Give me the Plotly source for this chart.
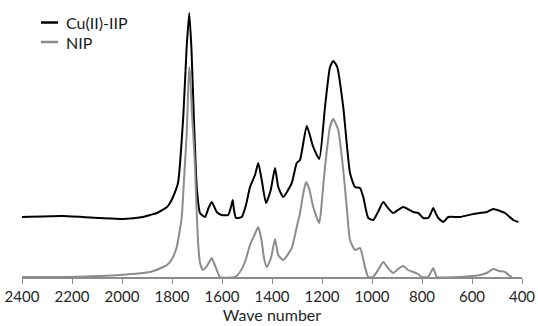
import plotly.graph_objects as go

# Series names
series_names = ["Cu(II)-IIP", "NIP"]

# Cu(II)-IIP spectrum (wave number, relative intensity)
iip_wn = [2400, 2240, 2088, 1996, 1916, 1888, 1860, 1820, 1808, 1796, 1776, 1755, 1742, 1731,
          1722, 1715, 1701, 1688, 1668, 1654, 1641, 1621, 1601, 1575, 1562, 1557, 1552, 1544,
          1521, 1504, 1488, 1468, 1455, 1441, 1424, 1405, 1388, 1375, 1355, 1321, 1301, 1288,
          1261, 1235, 1211, 1188, 1168, 1155, 1139, 1115, 1088, 1068, 1048, 1035, 1015, 995,
          976, 955, 936, 915, 896, 875, 835, 815, 795, 775, 764, 755, 744, 735, 715, 695,
          648, 595, 541, 515, 488, 468, 435, 415]
iip_val = [60, 61, 59, 58, 60, 62, 64, 70, 74, 80, 94, 160, 227, 264,
           227, 177, 90, 64, 60, 69, 75, 65, 62, 62, 72, 77, 67, 59,
           60, 72, 90, 102, 114, 97, 74, 87, 109, 90, 80, 94, 114, 117,
           151, 130, 118, 170, 210, 216, 210, 170, 104, 90, 89, 80, 59, 57,
           65, 75, 69, 64, 67, 70, 65, 64, 59, 59, 64, 69, 63, 59, 55, 60,
           60, 63, 65, 68, 66, 64, 57, 55]

# NIP spectrum (wave number, relative intensity)
nip_wn = [2400, 2212, 2088, 2008, 1888, 1835, 1820, 1800, 1781, 1770, 1761, 1752, 1741, 1736,
          1731, 1726, 1721, 1716, 1708, 1701, 1695, 1688, 1676, 1660, 1641, 1632, 1621, 1608,
          1548, 1528, 1508, 1488, 1472, 1455, 1442, 1432, 1421, 1404, 1388, 1375, 1355, 1321,
          1301, 1288, 1276, 1264, 1252, 1235, 1211, 1200, 1188, 1168, 1155, 1135, 1115, 1100,
          1088, 1068, 1048, 1028, 1015, 996, 976, 955, 936, 915, 896, 875, 856, 835, 816, 801,
          776, 764, 755, 746, 740, 648, 596, 568, 541, 515, 492, 468, 448, 440]
nip_val = [0, 0, 1, 2, 5, 10, 12, 18, 30, 45, 60, 97, 144, 182,
           210, 197, 167, 147, 110, 64, 32, 14, 7, 11, 19, 14, 7, 0,
           0, 5, 15, 32, 41, 50, 37, 19, 10, 19, 38, 22, 17, 29,
           50, 64, 82, 95, 89, 70, 54, 77, 110, 150, 158, 147, 107, 67,
           37, 27, 29, 10, 0, 0, 7, 15, 9, 4, 8, 11, 7, 5, 3, 0,
           0, 5, 9, 3, 0, 0, 1, 2, 4, 8, 6, 5, 1, 0]

x_ticks = [2400, 2200, 2000, 1800, 1600, 1400, 1200, 1000, 800, 600, 400]
x_title = "Wave number"

colors = ["#000000", "#8c8c8c"]
FONT = "Lato, 'Open Sans', sans-serif"

fig = go.Figure()
fig.add_trace(go.Scatter(x=iip_wn, y=iip_val, mode="lines", name=series_names[0],
                         line=dict(color=colors[0], width=2, shape="spline", smoothing=0.5),
                         showlegend=False))
fig.add_trace(go.Scatter(x=nip_wn, y=nip_val, mode="lines", name=series_names[1],
                         line=dict(color=colors[1], width=2, shape="spline", smoothing=0.5),
                         showlegend=False))

# Custom legend (short line samples like the original)
leg_y = [254.5, 235]
for i, name in enumerate(series_names):
    fig.add_shape(type="line", xref="paper", yref="y", x0=0.038, x1=0.072,
                  y0=leg_y[i], y1=leg_y[i], line=dict(color=colors[i], width=2.5))
    fig.add_annotation(xref="paper", yref="y", x=0.083, y=leg_y[i], text=name,
                       showarrow=False, xanchor="left", yanchor="middle",
                       font=dict(family=FONT, size=16, color="#1a1a1a"))

fig.update_layout(
    width=538, height=326,
    margin=dict(l=22, r=16, t=0, b=49),
    paper_bgcolor="white", plot_bgcolor="white",
    font=dict(family=FONT, color="#262626"),
    xaxis=dict(range=[2400, 400], tickvals=x_ticks, ticktext=[str(t) for t in x_ticks],
               showgrid=False, zeroline=False, showline=True, linecolor="#8c8c8c", linewidth=1.5,
               ticks="outside", ticklen=5, tickcolor="#8c8c8c", tickwidth=1,
               tickfont=dict(family=FONT, size=15, color="#262626"),
               title=dict(text=x_title, font=dict(family=FONT, size=16, color="#262626"), standoff=2)),
    yaxis=dict(range=[0, 277], visible=False, showgrid=False, zeroline=False),
)

fig.write_html("out.html", config={"displayModeBar": False},
               post_script="document.body.style.margin='0';document.body.style.overflow='hidden';")
